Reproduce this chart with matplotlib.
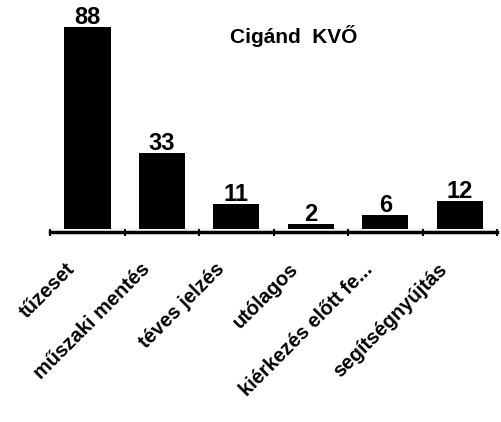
import numpy as np
import matplotlib
matplotlib.use("Agg")
import matplotlib.pyplot as plt
from matplotlib.transforms import ScaledTranslation

# Data
categories = ["tűzeset", "műszaki mentés", "téves jelzés", "utólagos",
              "kiérkezés előtt fe...", "segítségnyújtás"]
values = [88, 33, 11, 2, 6, 12]
title = "Cigánd  KVŐ"

plt.rcParams["font.family"] = ["Liberation Sans", "DejaVu Sans"]

fig = plt.figure(figsize=(5.02, 4.22), dpi=100)
ax = fig.add_axes([0.1, 1 - 229 / 422, 0.89, 219 / 422])

x = np.arange(len(categories))
ax.bar(x, values, width=0.62, color="black", zorder=3)

for xi, v in zip(x, values):
    ax.text(xi, v - 0.8, str(v), ha="center", va="bottom",
            fontsize=17, fontweight="bold", color="black", zorder=4)

ax.set_xlim(-0.5, len(categories) - 0.5)
ax.set_ylim(0, 95.4)

# floor line
ax.axhline(-1.5, color="black", lw=2.5, clip_on=False, zorder=2)
ax.axhline(0, color="#aaaaaa", lw=1, zorder=2)

for s in ["top", "right", "left", "bottom"]:
    ax.spines[s].set_visible(False)
ax.set_yticks([])

ax.set_xticks(x)
ax.set_xticklabels(categories, rotation=45, ha="right", va="top",
                   rotation_mode="anchor", fontsize=14.5, fontweight="bold")
ax.tick_params(axis="x", length=0, pad=22)
shift = ScaledTranslation(-22 / 100, 0, fig.dpi_scale_trans)
for lbl in ax.get_xticklabels():
    lbl.set_transform(lbl.get_transform() + shift)
ax.set_xticks(np.arange(len(categories) + 1) - 0.5, minor=True)
ax.tick_params(axis="x", which="minor", length=5, width=1.5, direction="out", pad=0)

fig.text(0.585, 0.915, title, ha="center", va="center",
         fontsize=15, fontweight="bold")

fig.savefig("out.png", dpi=100)
